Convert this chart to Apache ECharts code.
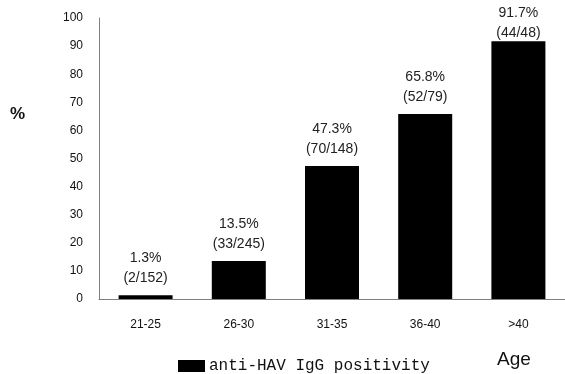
<!DOCTYPE html>
<html>
<head>
<meta charset="utf-8">
<script src="https://cdn.jsdelivr.net/npm/echarts@6/dist/echarts.min.js"></script>
<style>
  html, body { margin: 0; padding: 0; background: #fff; }
  #chart { width: 565px; height: 374px; }
</style>
</head>
<body>
<div id="chart"></div>
<script>
const ageGroups = ['21-25', '26-30', '31-35', '36-40', '>40']
const positivity = [1.3, 13.5, 47.3, 65.8, 91.7]
const positives = [2, 33, 70, 52, 44]
const totals = [152, 245, 148, 79, 48]
const yTicks = [0, 10, 20, 30, 40, 50, 60, 70, 80, 90, 100]

const chart = echarts.init(document.getElementById('chart'))

const option = {
  animation: false,
  backgroundColor: '#fff',
  grid: {
    left: 99,
    top: 18,
    width: 469,
    height: 281
  },
  legend: {
    data: ['anti-HAV IgG positivity'],
    left: 173,
    top: 353,
    itemWidth: 27,
    itemHeight: 12,
    itemGap: 6,
    icon: 'rect',
    textStyle: {
      fontFamily: 'Liberation Mono',
      fontSize: 16,
      color: '#111',
      padding: [0, 0, 0, -1]
    }
  },
  graphic: [
    {
      type: 'text',
      left: 10,
      top: 106,
      style: { text: '%', font: 'bold 17px "Liberation Sans"', fill: '#111' }
    },
    {
      type: 'text',
      left: 497,
      top: 350,
      style: { text: 'Age', font: '19px "Liberation Sans"', fill: '#111' }
    }
  ],
  xAxis: {
    type: 'category',
    data: ageGroups,
    axisLine: { lineStyle: { color: '#808080', width: 1 } },
    axisTick: { show: false },
    axisLabel: {
      margin: 20,
      fontFamily: 'Liberation Sans',
      fontSize: 12,
      color: '#111'
    }
  },
  yAxis: {
    type: 'value',
    min: yTicks[0],
    max: yTicks[yTicks.length - 1],
    interval: 10,
    axisLine: { show: true, lineStyle: { color: '#808080', width: 1 } },
    axisTick: { show: false },
    splitLine: { show: false },
    axisLabel: {
      margin: 16,
      fontFamily: 'Liberation Sans',
      fontSize: 12,
      color: '#111'
    }
  },
  series: [
    {
      name: 'anti-HAV IgG positivity',
      type: 'bar',
      barWidth: 54,
      itemStyle: { color: '#000' },
      label: {
        show: true,
        position: 'top',
        distance: 7,
        fontFamily: 'Liberation Sans',
        fontSize: 14,
        lineHeight: 20,
        color: '#222',
        formatter: p => p.value + '%\n(' + positives[p.dataIndex] + '/' + totals[p.dataIndex] + ')'
      },
      data: positivity.map((v, i) =>
        i === positivity.length - 1 ? { value: v, label: { distance: -2 } } : v
      )
    }
  ]
}

chart.setOption(option)
</script>
</body>
</html>
